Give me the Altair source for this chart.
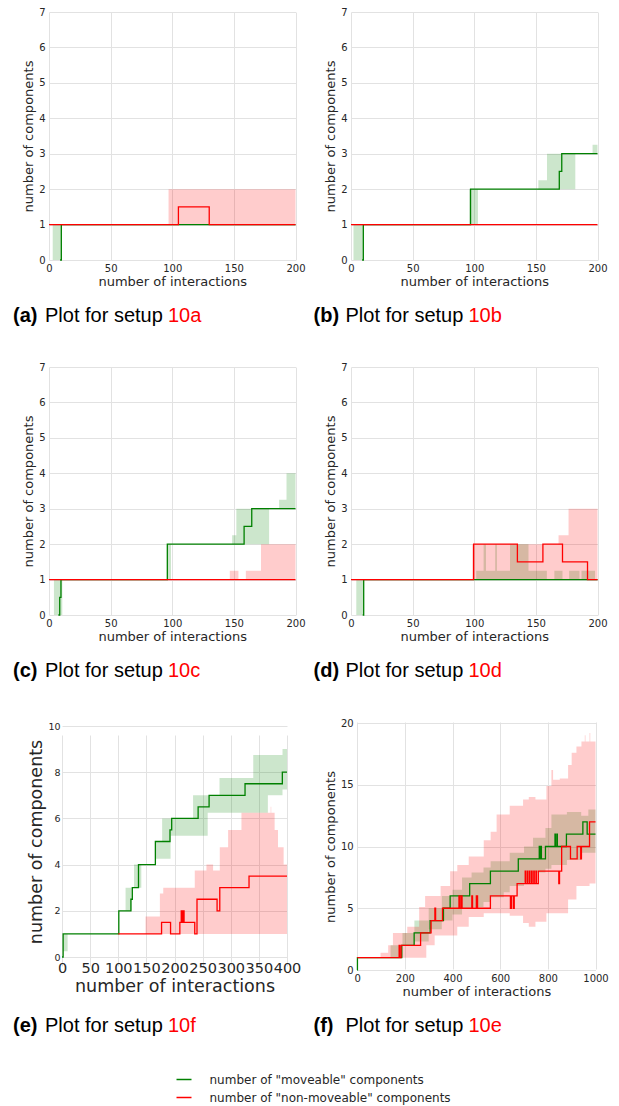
import altair as alt
import pandas as pd

GREEN = "#008000"
RED = "#ff0000"
MOVEABLE = 'number of "moveable" components'
NON_MOVEABLE = 'number of "non-moveable" components'

# ---------------- setup 10a ----------------
a_green_x = [9, 10, 200]
a_green_y = [0, 1, 1]
a_red_x = [0, 105, 130, 200]
a_red_y = [1, 1.5, 1, 1]
a_gband_x = [3, 10, 200]
a_gband_lo = [0, 1, 1]
a_gband_hi = [1, 1, 1]
a_rband_x = [0, 97, 200]
a_rband_lo = [1, 1, 1]
a_rband_hi = [1, 2, 2]

# ---------------- setup 10b ----------------
b_green_x = [9, 10, 97, 169, 171, 200]
b_green_y = [0, 1, 2, 2.5, 3, 3]
b_red_x = [0, 200]
b_red_y = [1, 1]
b_gband_x = [2, 10, 96, 103, 152, 159, 182, 196, 200]
b_gband_lo = [0, 1, 1, 2, 2, 2, 3, 3, 3]
b_gband_hi = [1, 1, 2, 2, 2.25, 3, 3, 3.25, 3.25]
b_rband_x = [0, 200]
b_rband_lo = [1, 1]
b_rband_hi = [1, 1]

# ---------------- setup 10c ----------------
c_green_x = [7.6, 8.7, 9.7, 96, 158.3, 164.5, 200]
c_green_y = [0, 0.5, 1, 2, 2.5, 3, 3]
c_red_x = [0, 200]
c_red_y = [1, 1]
c_gband_x = [4, 10.8, 96, 99, 148.6, 152, 178.6, 186.7, 192.7, 200]
c_gband_lo = [0, 1, 1, 2, 2, 2, 3, 3, 3, 3]
c_gband_hi = [1, 1, 2, 2, 2.25, 3, 3, 3.25, 4, 4]
c_rband_x = [146.7, 153.7, 159.7, 172, 200]
c_rband_lo = [1, 1, 1, 1, 1]
c_rband_hi = [1.25, 1, 1.25, 2, 2]

# ---------------- setup 10d ----------------
d_green_x = [9.5, 10.3, 200]
d_green_y = [0, 1, 1]
d_red_x = [0, 99.5, 135, 155.7, 171.6, 191.9, 200]
d_red_y = [1, 2, 1.5, 2, 1.5, 1, 1]
d_gband_x = [4.3, 10.3, 101.6, 107.6, 109.5, 117, 118.4, 129, 144, 158.9,
             165, 171.6, 177, 185.4, 187, 198, 200]
d_gband_lo = [0, 1, 1, 1, 1, 1, 1, 1, 1, 1, 1, 1, 1, 1, 1, 1, 1]
d_gband_hi = [1, 1, 1.25, 2, 1.25, 2, 1.25, 2, 1.25, 1,
              1.25, 1, 1.25, 1, 1.25, 1, 1]
d_rband_x = [98.4, 168.4, 176.5, 200]
d_rband_lo = [1, 1, 1, 1]
d_rband_hi = [2, 2.25, 3, 3]

# ---------------- setup 10f ----------------
e_green_x = [0, 2, 101, 122.5, 125, 136, 166, 192, 195, 242, 261.5, 325.4, 391.7, 400]
e_green_y = [0, 1, 2, 2.5, 3, 4, 5, 5.5, 6, 6.5, 7, 7.5, 8, 8]
e_red_x = [100, 177, 193, 209.5, 212, 214, 215, 217, 236, 240, 275.7, 280.5, 332.5, 400]
e_red_y = [1, 1.5, 1, 1.5, 2, 1.5, 2, 1.5, 1, 2.5, 2, 3, 3.5, 3.5]
e_gband_x = [2, 10, 101, 113, 124, 128, 141, 166, 178, 193, 233, 259, 280, 340, 366, 392, 400]
e_gband_lo = [0.25, 1, 2, 2, 3, 3, 4, 4.25, 4.25, 5.25, 5.25, 6.25, 6.25, 6.25, 7.0, 7.25, 7.25]
e_gband_hi = [1, 1, 2, 3, 3, 4, 4, 5, 6, 6, 7, 7, 7.75, 8.75, 8.75, 9, 9]
e_rband_x = [148.5, 174, 180, 236, 256.8, 268.6, 280.5, 295.3, 319, 371, 372, 378, 384, 394, 400]
e_rband_lo = [1] * 15
e_rband_hi = [1.75, 2.75, 3, 3.75, 4, 3.75, 4.75, 5.5, 6.25, 6.5, 6.25, 5.5, 4.75, 4, 4]

# ---------------- setup 10e ----------------
f_green_x = [0, 1, 187, 239, 306, 362, 390, 472, 559, 676,
             764, 766, 771, 773, 790, 830, 832, 838, 840, 878,
             947, 965, 1000]
f_green_y = [0, 1, 2, 3, 4, 5, 6, 7, 8, 9,
             10, 9, 10, 9, 10, 11, 10, 11, 10, 11,
             12, 11, 11]
f_red_x = [0, 176, 178, 184, 266, 310, 326, 329, 358, 427,
           431, 437, 440, 481, 484, 500, 505, 559, 643, 647,
           655, 659, 671, 705, 707, 714, 716, 723, 725, 732,
           734, 741, 743, 750, 752, 760, 846, 849, 858, 895,
           923, 938, 941, 975, 1000]
f_red_y = [1, 2, 1, 2, 3, 4, 5, 4, 5, 6,
           5, 6, 5, 6, 5, 6, 5, 6, 5, 6,
           5, 6, 7, 8, 7, 8, 7, 8, 7, 8,
           7, 8, 7, 8, 7, 8, 7, 8, 10, 9,
           10, 9, 10, 12, 12]
f_gband_x = [0, 140, 190, 240, 300, 355, 400, 440, 480, 530,
             560, 615, 640, 700, 738, 790, 815, 880, 940, 970, 1000]
f_gband_lo = [1, 1, 2, 2.3, 3.3, 4, 4.5, 5, 5.1, 5.5,
              5.9, 6.3, 6.8, 7.1, 7.9, 8.2, 8.5, 8.9, 9.5, 9.5, 9.5]
f_gband_hi = [1, 2, 3, 4, 5, 6, 6.5, 7.5, 7.9, 8.3,
              8.8, 8.8, 9.5, 10, 10.7, 11.5, 12.6, 12.8, 12.5, 13, 13]
f_rband_x = [98, 130, 150, 210, 260, 285, 290, 325, 350, 390,
             420, 468, 531, 560, 585, 640, 696, 720, 748, 794,
             815, 822, 830, 850, 885, 900, 920, 941, 955, 958,
             975, 978, 1000]
f_rband_lo = [1, 1, 1, 1, 1, 1, 2, 2.8, 2.8, 2.8,
              3.5, 4.3, 4.6, 4.6, 4.6, 4.4, 3.8, 3.5, 3.9, 4.6,
              4.6, 4.6, 4.6, 4.6, 5.7, 5.7, 6.8, 6.8, 6.8, 6.8,
              7, 7, 7]
f_rband_hi = [1.4, 2, 3, 3.5, 5.1, 6, 6, 6, 6.8, 8,
              8.5, 9.2, 10.5, 11.2, 12.6, 13.3, 13.8, 14, 13.8, 14.9,
              16.2, 15.4, 15.4, 15.5, 16.6, 17.6, 18.1, 18.5, 19, 18.5,
              19.2, 18.5, 18.5]

SMALL = dict(xlab=10, xtit=13, xlp=3, xtp=2, ylab=10, ytit=13, ylp=4, ytp=3)
LARGE = dict(xlab=14.5, xtit=17.5, xlp=4, xtp=3, ylab=9.5, ytit=17.5, ylp=2, ytp=2)

W = 246.5
H = 248


def line_frame(xs, ys, series):
    return pd.DataFrame({"x": xs, "y": ys, "series": series})


def band_frame(xs, lo, hi):
    return pd.DataFrame({"x": xs, "lo": lo, "hi": hi})


def panel(letter, setup, green, red, gband, rband, xdom, xticks, ydom, yticks,
          style, xrange=None, yrange=None, x_offset=0, y_offset=0,
          cap_dx=-36, legend=None):
    xs_kw = dict(domain=xdom, nice=False, zero=False)
    ys_kw = dict(domain=ydom, nice=False, zero=False)
    if xrange:
        xs_kw["range"] = xrange
    if yrange:
        ys_kw["range"] = yrange
    x_axis = alt.Axis(title="number of interactions", values=xticks, format="d",
                      labelFontSize=style["xlab"], titleFontSize=style["xtit"],
                      labelPadding=style["xlp"], titlePadding=style["xtp"],
                      offset=x_offset)
    y_axis = alt.Axis(title="number of components", values=yticks, format="d",
                      labelFontSize=style["ylab"], titleFontSize=style["ytit"],
                      labelPadding=style["ylp"], titlePadding=style["ytp"],
                      offset=y_offset)
    X = alt.X("x:Q", scale=alt.Scale(**xs_kw), axis=x_axis)
    Y_line = alt.Y("y:Q", scale=alt.Scale(**ys_kw), axis=y_axis)
    Y_band = alt.Y("lo:Q", scale=alt.Scale(**ys_kw), axis=y_axis)

    color = alt.Color("series:N",
                      scale=alt.Scale(domain=[MOVEABLE, NON_MOVEABLE], range=[GREEN, RED]),
                      legend=legend)

    gb = alt.Chart(band_frame(*gband)).mark_area(
        interpolate="step-after", color=GREEN, opacity=0.2
    ).encode(x=X, y=Y_band, y2="hi:Q")
    rb = alt.Chart(band_frame(*rband)).mark_area(
        interpolate="step-after", color=RED, opacity=0.2
    ).encode(x=X, y=Y_band, y2="hi:Q")
    gl = alt.Chart(line_frame(*green, MOVEABLE)).mark_line(
        interpolate="step-after", strokeWidth=1.3
    ).encode(x=X, y=Y_line, color=color)
    rl = alt.Chart(line_frame(*red, NON_MOVEABLE)).mark_line(
        interpolate="step-after", strokeWidth=1.3
    ).encode(x=X, y=Y_line, color=color)

    cap_y = H + 62
    cap_style = dict(align="left", baseline="alphabetic", font="Liberation Sans", fontSize=20)
    cap_bold = alt.Chart(pd.DataFrame({"t": [f"({letter})"]})).mark_text(
        fontWeight="bold", color="black", **cap_style
    ).encode(x=alt.value(cap_dx), y=alt.value(cap_y), text="t:N")
    cap_plain = alt.Chart(pd.DataFrame({"t": ["Plot for setup"]})).mark_text(
        color="black", **cap_style
    ).encode(x=alt.value(cap_dx + 32), y=alt.value(cap_y), text="t:N")
    cap_ref = alt.Chart(pd.DataFrame({"t": [setup]})).mark_text(
        color=RED, **cap_style
    ).encode(x=alt.value(cap_dx + 155), y=alt.value(cap_y), text="t:N")

    return alt.layer(gb, rb, gl, rl, cap_bold, cap_plain, cap_ref).properties(
        width=W, height=H
    )


ticks200 = [0, 50, 100, 150, 200]
ticks7 = list(range(0, 8))

pa = panel("a", "10a", (a_green_x, a_green_y), (a_red_x, a_red_y),
           (a_gband_x, a_gband_lo, a_gband_hi), (a_rband_x, a_rband_lo, a_rband_hi),
           [0, 200], ticks200, [0, 7], ticks7, SMALL, cap_dx=-36)
pb = panel("b", "10b", (b_green_x, b_green_y), (b_red_x, b_red_y),
           (b_gband_x, b_gband_lo, b_gband_hi), (b_rband_x, b_rband_lo, b_rband_hi),
           [0, 200], ticks200, [0, 7], ticks7, SMALL, cap_dx=-37.5)
pc = panel("c", "10c", (c_green_x, c_green_y), (c_red_x, c_red_y),
           (c_gband_x, c_gband_lo, c_gband_hi), (c_rband_x, c_rband_lo, c_rband_hi),
           [0, 200], ticks200, [0, 7], ticks7, SMALL, cap_dx=-36)
pd_ = panel("d", "10d", (d_green_x, d_green_y), (d_red_x, d_red_y),
            (d_gband_x, d_gband_lo, d_gband_hi), (d_rband_x, d_rband_lo, d_rband_hi),
            [0, 200], ticks200, [0, 7], ticks7, SMALL, cap_dx=-37.5)
pe = panel("e", "10f", (e_green_x, e_green_y), (e_red_x, e_red_y),
           (e_gband_x, e_gband_lo, e_gband_hi), (e_rband_x, e_rband_lo, e_rband_hi),
           [0, 400], list(range(0, 401, 50)), [0, 10], [0, 2, 4, 6, 8, 10],
           LARGE, xrange=[13, 238], yrange=[235, 4], x_offset=-13, y_offset=-13,
           cap_dx=-36)
legend = alt.Legend(orient="none", legendX=-175.5, legendY=349, title=None,
                    symbolType="stroke", symbolSize=225, symbolStrokeWidth=1.5,
                    labelFont="DejaVu Sans", labelFontSize=12, labelOffset=17,
                    labelColor="#262626", labelLimit=0, rowPadding=3, padding=0)
pf = panel("f", "10e", (f_green_x, f_green_y), (f_red_x, f_red_y),
           (f_gband_x, f_gband_lo, f_gband_hi), (f_rband_x, f_rband_lo, f_rband_hi),
           [0, 1000], [0, 200, 400, 600, 800, 1000], [0, 20], [0, 5, 10, 15, 20],
           SMALL, xrange=[6.2, 244.5], yrange=[248, 1], y_offset=-6.2,
           cap_dx=-37.5, legend=legend)

chart = alt.concat(
    pa, pb, pc, pd_, pe, pf, columns=2, spacing={"row": 107, "column": 55}, bounds="flush"
).resolve_scale(
    x="independent", y="independent", color="independent"
).properties(
    padding={"left": 13, "top": 7, "right": 4, "bottom": 2},
    background="white",
).configure_view(stroke=None).configure_axis(
    domain=False, ticks=False, tickSize=0, grid=True, gridColor="#e2e2e2", gridWidth=1,
    labelFont="DejaVu Sans", titleFont="DejaVu Sans", labelColor="#262626",
    titleColor="#262626", titleFontWeight="normal", labelFlush=False, labelOverlap=False,
)

chart.save("out.html", embed_options={"renderer": "svg", "actions": False})
